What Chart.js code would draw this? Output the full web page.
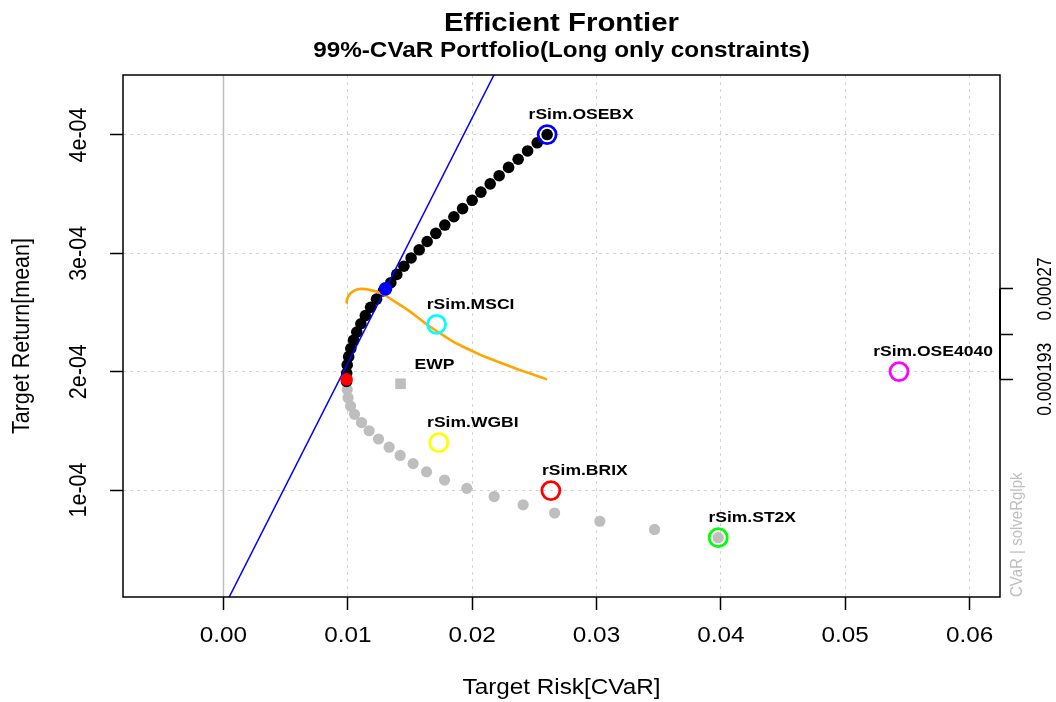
<!DOCTYPE html>
<html>
<head>
<meta charset="utf-8">
<script src="https://cdn.jsdelivr.net/npm/chart.js@4.4.1/dist/chart.umd.min.js"></script>
<style>
html,body{margin:0;padding:0;background:#ffffff;}
#wrap{width:1056px;height:702px;}
</style>
</head>
<body>
<div id="wrap"><canvas id="c" width="1056" height="702"></canvas></div>
<script>
// ---------------- text ----------------
const titleText = "Efficient Frontier";
const subtitleText = "99%-CVaR Portfolio(Long only constraints)";
const xTitle = "Target Risk[CVaR]";
const yTitle = "Target Return[mean]";
const watermark = "CVaR | solveRglpk";

// ---------------- axes ----------------
const xRange = [-0.00808, 0.06245];
const yRange = [0.96e-5, 4.507e-4];
const xTicks = [0, 0.01, 0.02, 0.03, 0.04, 0.05, 0.06];
const xTickLabels = ["0.00", "0.01", "0.02", "0.03", "0.04", "0.05", "0.06"];
const yTicks = [1e-4, 2e-4, 3e-4, 4e-4];
const yTickLabels = ["1e-04", "2e-04", "3e-04", "4e-04"];
const rightTicks = [1.935e-4, 2.3175e-4, 2.70e-4];
const rightTickLabels = ["0.000193", "", "0.00027"];

// ---------------- frontier (50 points) ----------------
const frontierRisk = [
  0.03979, 0.03467, 0.03027, 0.02663, 0.02410, 0.02177, 0.01957, 0.01778, 0.01633, 0.01525,
  0.01421, 0.01332, 0.01247, 0.01171, 0.01110, 0.01054, 0.01022, 0.01002, 0.00995, 0.00990,
  0.00991, 0.00995, 0.01007, 0.01024, 0.01046, 0.01072, 0.01105, 0.01141, 0.01183, 0.01231,
  0.01286, 0.01346, 0.01394, 0.01451, 0.01509, 0.01574, 0.01638, 0.01708, 0.01780, 0.01853,
  0.01923, 0.02000, 0.02070, 0.02145, 0.02217, 0.02293, 0.02370, 0.02446, 0.02523, 0.02603
];
const frontierReturn = [
  5.97e-5, 6.67e-5, 7.36e-5, 8.06e-5, 8.75e-5, 9.45e-5, 1.014e-4, 1.084e-4, 1.153e-4, 1.223e-4,
  1.292e-4, 1.362e-4, 1.431e-4, 1.501e-4, 1.570e-4, 1.640e-4, 1.709e-4, 1.779e-4, 1.849e-4, 1.918e-4,
  1.988e-4, 2.057e-4, 2.127e-4, 2.196e-4, 2.266e-4, 2.335e-4, 2.405e-4, 2.474e-4, 2.544e-4, 2.613e-4,
  2.683e-4, 2.752e-4, 2.822e-4, 2.891e-4, 2.961e-4, 3.030e-4, 3.100e-4, 3.169e-4, 3.239e-4, 3.309e-4,
  3.378e-4, 3.448e-4, 3.517e-4, 3.587e-4, 3.656e-4, 3.726e-4, 3.795e-4, 3.865e-4, 3.934e-4, 4.004e-4
];
const efficientFrom = 19;

// Sharpe ratio curve (scaled onto the return axis), one value per efficient point
const sharpeCurve = [
  2.579e-4, 2.596e-4, 2.617e-4, 2.643e-4, 2.666e-4, 2.681e-4, 2.694e-4, 2.700e-4, 2.698e-4, 2.689e-4,
  2.677e-4, 2.655e-4, 2.614e-4, 2.582e-4, 2.544e-4, 2.501e-4, 2.450e-4, 2.396e-4, 2.348e-4, 2.298e-4,
  2.250e-4, 2.213e-4, 2.175e-4, 2.140e-4, 2.109e-4, 2.080e-4, 2.050e-4, 2.019e-4, 1.992e-4, 1.964e-4,
  1.935e-4
];

const minRiskPoint = { x: 0.00990, y: 1.935e-4 };
const tangencyPoint = { x: 0.01303, y: 2.700e-4 };
const riskFreeRate = 0;

// ---------------- assets ----------------
const assetNames = ["rSim.OSEBX", "rSim.MSCI", "rSim.WGBI", "rSim.BRIX", "rSim.ST2X", "rSim.OSE4040"];
const assetRisk = [0.02603, 0.01714, 0.01732, 0.02633, 0.03979, 0.05433];
const assetReturn = [4.004e-4, 2.400e-4, 1.400e-4, 0.995e-4, 0.597e-4, 2.001e-4];
const assetColors = ["#0000FF", "#00FFFF", "#FFFF00", "#FF0000", "#00FF00", "#FF00FF"];
const ewpName = "EWP";
const ewpRisk = [0.01424];
const ewpReturn = [1.898e-4];

// ---------------- build ----------------
const FONT = '"Liberation Sans", Arial, sans-serif';
const SX = 1.13;

function pts(xs, ys) { return xs.map((x, i) => ({ x: x, y: ys[i] })); }
const inefficient = pts(frontierRisk.slice(0, efficientFrom), frontierReturn.slice(0, efficientFrom));
const efficientX = frontierRisk.slice(efficientFrom);
const efficient = pts(efficientX, frontierReturn.slice(efficientFrom));
const sharpeData = pts(efficientX, sharpeCurve);
const slope = (tangencyPoint.y - riskFreeRate) / tangencyPoint.x;
const tangentLine = [
  { x: 0, y: riskFreeRate },
  { x: 0.03, y: riskFreeRate + slope * 0.03 }
];

function drawText(ctx, s, x, y, font, color, align, baseline, rot) {
  ctx.save();
  ctx.translate(x, y);
  ctx.scale(SX, 1);
  if (rot) ctx.rotate(rot);
  ctx.font = font;
  ctx.fillStyle = color;
  ctx.textAlign = align;
  ctx.textBaseline = baseline;
  ctx.fillText(s, 0, 0);
  ctx.restore();
}

const decor = {
  id: 'decor',
  beforeDatasetsDraw(chart) {
    const { ctx, chartArea: ca, scales } = chart;
    const x0 = scales.x.getPixelForValue(0);
    ctx.save();
    ctx.strokeStyle = '#BEBEBE';
    ctx.lineWidth = 1.5;
    ctx.beginPath();
    ctx.moveTo(x0, ca.top);
    ctx.lineTo(x0, ca.bottom);
    ctx.stroke();
    ctx.restore();
  },
  afterDraw(chart) {
    const { ctx, chartArea: ca, scales } = chart;
    const xs = scales.x, ys = scales.y;
    // box
    ctx.save();
    ctx.strokeStyle = '#000';
    ctx.lineWidth = 1.5;
    ctx.strokeRect(ca.left, ca.top, ca.right - ca.left, ca.bottom - ca.top);
    // right axis line between its ticks
    ctx.lineWidth = 2;
    ctx.beginPath();
    ctx.moveTo(ca.right, ys.getPixelForValue(rightTicks[0]));
    ctx.lineTo(ca.right, ys.getPixelForValue(rightTicks[rightTicks.length - 1]));
    ctx.stroke();
    ctx.restore();

    const cx = (ca.left + ca.right) / 2;
    // titles
    drawText(ctx, titleText, cx, 31, 'bold 26px ' + FONT, '#000', 'center', 'alphabetic');
    drawText(ctx, subtitleText, cx, 57, 'bold 21.5px ' + FONT, '#000', 'center', 'alphabetic');
    // x tick labels
    xTicks.forEach((v, i) => {
      drawText(ctx, xTickLabels[i], xs.getPixelForValue(v), 636, '21.5px ' + FONT, '#000', 'center', 'middle');
    });
    // y tick labels
    yTicks.forEach((v, i) => {
      drawText(ctx, yTickLabels[i], 79.5, ys.getPixelForValue(v), '21.5px ' + FONT, '#000', 'center', 'middle', -Math.PI / 2);
    });
    // right tick labels
    rightTicks.forEach((v, i) => {
      if (rightTickLabels[i]) {
        drawText(ctx, rightTickLabels[i], 1046, ys.getPixelForValue(v), '17.5px ' + FONT, '#000', 'center', 'middle', -Math.PI / 2);
      }
    });
    // axis titles
    drawText(ctx, xTitle, cx, 688, '21.5px ' + FONT, '#000', 'center', 'middle');
    drawText(ctx, yTitle, 22, (ca.top + ca.bottom) / 2, '21.5px ' + FONT, '#000', 'center', 'middle', -Math.PI / 2);
    // watermark
    drawText(ctx, watermark, 1017, ca.bottom, '15px ' + FONT, '#BEBEBE', 'left', 'middle', -Math.PI / 2);
    // asset labels
    assetNames.forEach((n, i) => {
      const px = xs.getPixelForValue(assetRisk[i]);
      const py = ys.getPixelForValue(assetReturn[i]);
      drawText(ctx, n, px + 34, py - 19.5, 'bold 15.5px ' + FONT, '#000', 'center', 'middle');
    });
    const ex = xs.getPixelForValue(ewpRisk[0]);
    const ey = ys.getPixelForValue(ewpReturn[0]);
    drawText(ctx, ewpName, ex + 34, ey - 19.5, 'bold 15.5px ' + FONT, '#000', 'center', 'middle');
  }
};

const gridCommon = {
  color: '#D3D3D3',
  lineWidth: 1,
  drawTicks: true,
  tickLength: 13,
  tickColor: '#000',
  tickWidth: 1.5,
  tickBorderDash: []
};

new Chart(document.getElementById('c').getContext('2d'), {
  type: 'scatter',
  data: {
    datasets: [
      { label: 'frontier', data: inefficient, pointRadius: 5.6, pointBackgroundColor: '#BEBEBE',
        pointBorderWidth: 0, showLine: false, order: 10 },
      { label: 'efficient frontier', data: efficient, pointRadius: 5.8, pointBackgroundColor: '#000000',
        pointBorderWidth: 0, showLine: false, order: 9 },
      { label: 'tangency line', data: tangentLine, showLine: true, borderColor: '#0000FF', borderWidth: 1.5,
        pointRadius: 0, clip: 0, order: 8 },
      { label: 'sharpe ratio', data: sharpeData, showLine: true, borderColor: '#FFA500', borderWidth: 2.6,
        pointRadius: 0, tension: 0, clip: 0, order: 7 },
      { label: 'min risk', data: [minRiskPoint], pointRadius: 6.3, pointBackgroundColor: '#FF0000',
        pointBorderWidth: 0, order: 6 },
      { label: 'tangency', data: [tangencyPoint], pointRadius: 6.8, pointBackgroundColor: '#0000FF',
        pointBorderWidth: 0, order: 5 },
      { label: 'assets', data: pts(assetRisk, assetReturn), pointRadius: 9, pointBorderWidth: 2.8,
        pointBorderColor: assetColors, pointBackgroundColor: 'rgba(0,0,0,0)', order: 4 },
      { label: 'EWP', data: pts(ewpRisk, ewpReturn), pointStyle: 'rect', pointRadius: 7.5,
        pointBackgroundColor: '#BEBEBE', pointBorderWidth: 0, order: 3 }
    ]
  },
  options: {
    responsive: false,
    animation: false,
    devicePixelRatio: 1,
    events: [],
    layout: { padding: { top: 75, left: 0, right: 0, bottom: 0 } },
    plugins: { legend: { display: false }, tooltip: { enabled: false }, title: { display: false } },
    scales: {
      x: {
        type: 'linear', position: 'bottom', min: xRange[0], max: xRange[1],
        afterBuildTicks: s => { s.ticks = xTicks.map(v => ({ value: v })); },
        afterFit: s => { s.height = 105; },
        ticks: { display: false },
        grid: Object.assign({}, gridCommon),
        border: { display: false, dash: [3, 4] }
      },
      y: {
        type: 'linear', position: 'left', min: yRange[0], max: yRange[1],
        afterBuildTicks: s => { s.ticks = yTicks.map(v => ({ value: v })); },
        afterFit: s => { s.width = 123; },
        ticks: { display: false },
        grid: Object.assign({}, gridCommon),
        border: { display: false, dash: [3, 4] }
      },
      y2: {
        type: 'linear', position: 'right', min: yRange[0], max: yRange[1],
        afterBuildTicks: s => { s.ticks = rightTicks.map(v => ({ value: v })); },
        afterFit: s => { s.width = 56; },
        ticks: { display: false },
        grid: Object.assign({}, gridCommon, { drawOnChartArea: false }),
        border: { display: false }
      }
    }
  },
  plugins: [decor]
});
</script>
</body>
</html>
